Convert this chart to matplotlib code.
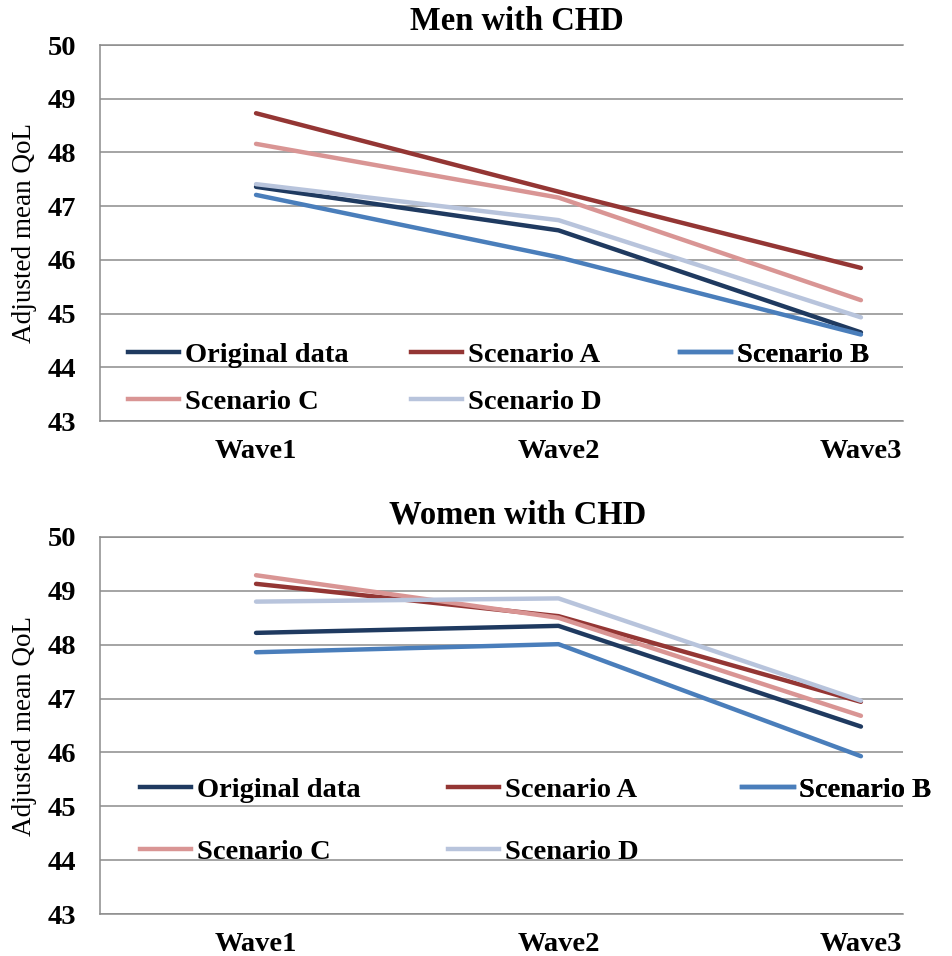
import matplotlib.pyplot as plt
from matplotlib.lines import Line2D

plt.rcParams['font.family'] = ['Liberation Serif', 'DejaVu Serif']
plt.rcParams['font.weight'] = 'bold'

waves = ["Wave1", "Wave2", "Wave3"]
series_names = ["Original data", "Scenario A", "Scenario B", "Scenario C", "Scenario D"]
series_colors = ["#1F3A60", "#943634", "#4A7EBB", "#D99594", "#B8C4DC"]

# men with CHD
men_original = [47.36, 46.55, 44.65]
men_a = [48.73, 47.27, 45.85]
men_b = [47.21, 46.05, 44.61]
men_c = [48.16, 47.16, 45.25]
men_d = [47.41, 46.74, 44.93]

# women with CHD
women_original = [48.22, 48.35, 46.48]
women_a = [49.13, 48.53, 46.94]
women_b = [47.86, 48.01, 45.93]
women_c = [49.29, 48.50, 46.68]
women_d = [48.80, 48.86, 46.96]

yticks = [43, 44, 45, 46, 47, 48, 49, 50]


def draw_panel(ax, series, leg_x, leg_top, leg_gap):
    x = range(len(waves))
    # excel order: later series drawn on top
    for i in range(len(series)):
        ax.plot(x, series[i], color=series_colors[i], lw=3.2,
                solid_capstyle='round', zorder=3 + i * 0.1)
    ax.set_xlim(-0.516, 2.139)
    ax.set_ylim(43, 50)
    ax.set_yticks(yticks)
    ax.set_xticks(list(x))
    ax.set_xticklabels(waves)
    ax.grid(axis='y', color='#8C8C8C', lw=1.1)
    ax.set_axisbelow(True)
    ax.spines['right'].set_visible(False)
    for s in ['left', 'top', 'bottom']:
        ax.spines[s].set_color('#8C8C8C')
        ax.spines[s].set_linewidth(1.1)
    ax.tick_params(axis='both', length=0)
    ax.tick_params(axis='y', pad=17, labelsize=20.5)
    ax.tick_params(axis='x', pad=13, labelsize=20.5)
    ax.set_ylabel("Adjusted mean QoL", fontsize=19.5, labelpad=8)

    # legend laid out like excel: three columns, row-wise order
    cols = [[0, 3], [1, 4], [2]]
    for c, idx in enumerate(cols):
        handles = [Line2D([], [], color=series_colors[i], lw=3.2) for i in idx]
        labels = [series_names[i] for i in idx]
        lg = ax.legend(handles, labels, loc='upper left',
                       bbox_to_anchor=(leg_x[c], leg_top), frameon=False,
                       fontsize=20.5, handlelength=1.8, handletextpad=0.2,
                       borderpad=0, borderaxespad=0, labelspacing=leg_gap)
        ax.add_artist(lg)


fig = plt.figure(figsize=(9.52, 9.56), dpi=100)
ax1 = fig.add_axes([0.105, 0.5596, 0.8435, 0.3933])
ax2 = fig.add_axes([0.105, 0.0439, 0.8435, 0.3944])

draw_panel(ax1, [men_original, men_a, men_b, men_c, men_d],
           [0.0349, 0.387, 0.722], 0.209, 0.72)
draw_panel(ax2, [women_original, women_a, women_b, women_c, women_d],
           [0.0498, 0.433, 0.80], 0.364, 1.28)

fig.text(0.543, 0.977, "Men with CHD", ha='center', va='center', fontsize=23.5)
fig.text(0.544, 0.461, "Women with CHD", ha='center', va='center', fontsize=23.5)

fig.savefig("out.png", dpi=100)
